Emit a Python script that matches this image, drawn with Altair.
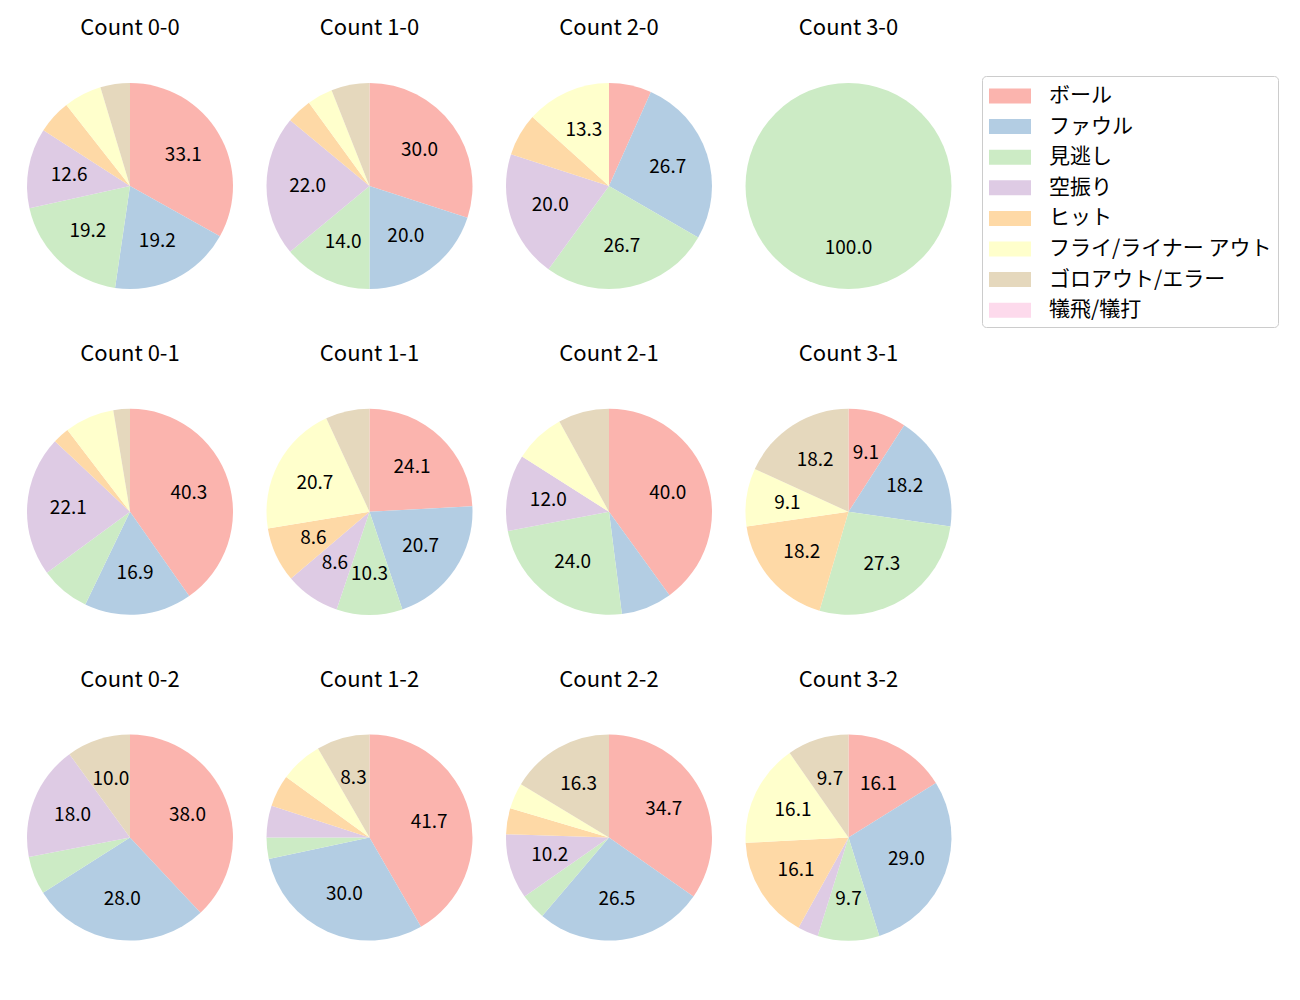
import altair as alt
import pandas as pd

categories = ["ボール", "ファウル", "見逃し", "空振り", "ヒット",
              "フライ/ライナー アウト", "ゴロアウト/エラー", "犠飛/犠打"]
colors = ["#fbb4ae", "#b3cde3", "#ccebc5", "#decbe4", "#fed9a6",
          "#ffffcc", "#e5d8bd", "#fddaec"]

panels = ["Count 0-0", "Count 1-0", "Count 2-0", "Count 3-0",
          "Count 0-1", "Count 1-1", "Count 2-1", "Count 3-1",
          "Count 0-2", "Count 1-2", "Count 2-2", "Count 3-2"]

# pitch outcome counts per ball-strike count, in category order
counts_00 = [50, 29, 29, 19, 8, 9, 7, 0]
counts_10 = [15, 10, 7, 11, 2, 2, 3, 0]
counts_20 = [1, 4, 4, 3, 1, 2, 0, 0]
counts_30 = [0, 0, 1, 0, 0, 0, 0, 0]
counts_01 = [31, 13, 6, 17, 2, 6, 2, 0]
counts_11 = [14, 12, 6, 5, 5, 12, 4, 0]
counts_21 = [10, 2, 6, 3, 0, 2, 2, 0]
counts_31 = [1, 2, 3, 0, 2, 1, 2, 0]
counts_02 = [19, 14, 3, 9, 0, 0, 5, 0]
counts_12 = [25, 18, 2, 3, 3, 4, 5, 0]
counts_22 = [17, 13, 2, 5, 2, 2, 8, 0]
counts_32 = [5, 9, 3, 1, 5, 5, 3, 0]

all_counts = [counts_00, counts_10, counts_20, counts_30,
              counts_01, counts_11, counts_21, counts_31,
              counts_02, counts_12, counts_22, counts_32]

rows = []
for name, vals in zip(panels, all_counts):
    total = sum(vals)
    for i, (cat, v) in enumerate(zip(categories, vals)):
        if v == 0:
            continue
        pct = v / total * 100
        rows.append({
            "panel": name,
            "cat": cat,
            "idx": i,
            "pct": pct,
            "label": f"{pct:.1f}" if pct > 8.1 else "",
        })
df = pd.DataFrame(rows)

FONT = "Noto Sans CJK JP"
R = 103

theta = alt.Theta("pct:Q", stack=True, scale=alt.Scale(domain=[0, 100]))
order = alt.Order("idx:Q", sort="ascending")

arc = alt.Chart().mark_arc(radius=R, stroke=None).encode(
    theta=theta,
    order=order,
    color=alt.Color(
        "cat:N",
        scale=alt.Scale(domain=categories, range=colors),
        sort=categories,
        legend=alt.Legend(
            title=None,
            orient="none",
            legendX=955,
            legendY=-7,
            symbolType="M-0.9286,-0.5357H2.071V0.5357H-0.9286Z",
            symbolSize=784,
            symbolStrokeWidth=0,
            labelFontSize=21,
            labelFont=FONT,
            labelColor="#000000",
            labelOffset=33,
            labelLimit=400,
            rowPadding=6.6,
            padding=6,
            strokeColor="#cccccc",
            fillColor="#ffffff",
            cornerRadius=4,
        ),
    ),
)

text = alt.Chart().mark_text(radius=R * 0.6, fontSize=19, font=FONT, color="#000000").encode(
    theta=theta,
    order=order,
    text="label:N",
)

chart = alt.layer(arc, text, data=df).properties(
    width=206, height=206
).facet(
    facet=alt.Facet("panel:N", sort=panels, title=None,
                    header=alt.Header(labelFontSize=22, labelFont=FONT,
                                      labelColor="#000000", labelPadding=43)),
    columns=4,
    spacing={"row": 53.8, "column": 33.5},
).properties(
    padding={"left": 27, "top": 17, "right": 5, "bottom": 5}
).configure_view(stroke=None)

chart.save("out.html", embed_options={"renderer": "svg", "actions": False})
